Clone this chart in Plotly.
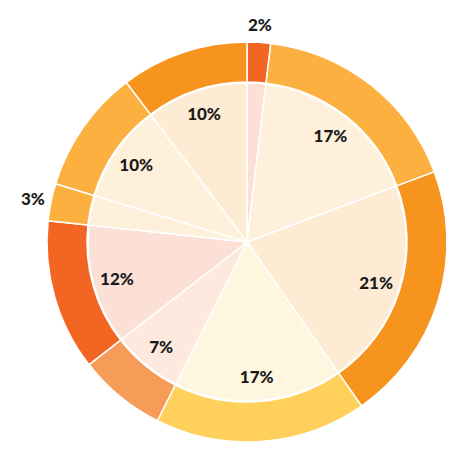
import math
import plotly.graph_objects as go

shares = [1.9, 17.4, 21.0, 17.1, 7.1, 12.2, 3.0, 10.0, 10.3]
segments = ["A", "B", "C", "D", "E", "F", "G", "H", "I"]
outer_colors = ["#F26522", "#FBB040", "#F7941D", "#FFD15C", "#F69C58",
                "#F26522", "#FBB040", "#FBB040", "#F7941D"]
inner_colors = ["#FCE0D6", "#FEF0DA", "#FDEBD3", "#FFF6E0", "#FDE9DE",
                "#FCE0D6", "#FEF0DA", "#FEF0DA", "#FDEBD3"]
outside_label = [True, False, False, False, False, False, True, False, False]

font = dict(family="Lato", size=17, color="#1a1a1a", weight=900)
inner_dom = [0.1025, 0.8975]

fig = go.Figure()
fig.add_trace(go.Pie(
    labels=segments, values=shares, sort=False, direction="clockwise", rotation=0,
    hole=0.8, marker=dict(colors=outer_colors, line=dict(color="white", width=1.5)),
    textposition="none", showlegend=False, hoverinfo="skip",
    domain=dict(x=[0, 1], y=[0, 1]),
))
fig.add_trace(go.Pie(
    labels=segments, values=shares, sort=False, direction="clockwise", rotation=0,
    marker=dict(colors=inner_colors, line=dict(color="white", width=1.5)),
    textposition="none", showlegend=False, hoverinfo="skip",
    domain=dict(x=inner_dom, y=inner_dom),
))
fig.add_trace(go.Pie(
    labels=segments, values=shares, sort=False, direction="clockwise", rotation=0,
    hole=0.7, marker=dict(colors=["rgba(0,0,0,0)"] * len(shares), line=dict(width=0)),
    texttemplate="%{percent:.0%}",
    textposition=["none" if o else "inside" for o in outside_label],
    insidetextorientation="horizontal", insidetextfont=font,
    showlegend=False, hoverinfo="skip",
    domain=dict(x=inner_dom, y=inner_dom),
))

# outside labels for the thin slices, placed at the slice mid-angle
total = sum(shares)
cum = 0.0
label_r = 0.545
for v, o in zip(shares, outside_label):
    mid = (cum + v / 2) / total * 2 * math.pi
    cum += v
    if o:
        fig.add_annotation(
            x=0.5 + label_r * math.sin(mid), y=0.5 + label_r * math.cos(mid),
            xref="paper", yref="paper", showarrow=False,
            text=f"{round(v / total * 100)}%", font=font,
            xanchor="center", yanchor="middle",
        )

fig.update_layout(
    width=460, height=460,
    margin=dict(l=47, r=13, t=42, b=18),
    paper_bgcolor="white", plot_bgcolor="white",
)
fig.write_html("out.html", config={"displayModeBar": False},
               post_script="document.body.style.margin='0';")
